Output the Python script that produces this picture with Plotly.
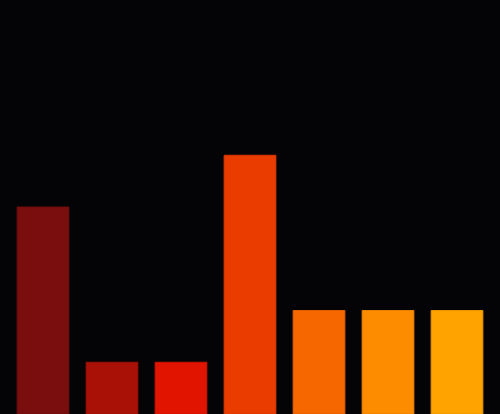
import plotly.graph_objects as go

categories = ["A", "B", "C", "D", "E", "F", "G"]
values = [4, 1, 1, 5, 2, 2, 2]
bar_colors = ["#7a0e0f", "#aa1106", "#e11400", "#eb3c00", "#f76700", "#fd8c00", "#fea300"]
edge_colors = ["#6e0d0d", "#9a1006", "#cc1200", "#d83700", "#e05e00", "#e68000", "#e69400"]

fig = go.Figure(go.Bar(
    x=categories, y=values,
    marker=dict(color=bar_colors, line=dict(color=edge_colors, width=1)),
    hoverinfo="skip",
))
fig.update_layout(
    width=500, height=414,
    margin=dict(l=0, r=0, t=0, b=0),
    paper_bgcolor="#040305", plot_bgcolor="#040305",
    bargap=0.25, showlegend=False,
    xaxis=dict(visible=False, range=[-0.623, 6.623]),
    yaxis=dict(visible=False, range=[0, 8]),
)

# drop the browser's default body margin so the chart fills the window
page_css = (
    "document.body.style.margin='0';"
    "document.body.style.overflow='hidden';"
    "document.body.style.background='#040305';"
)
fig.write_html("out.html", post_script=page_css, config={"displayModeBar": False})
